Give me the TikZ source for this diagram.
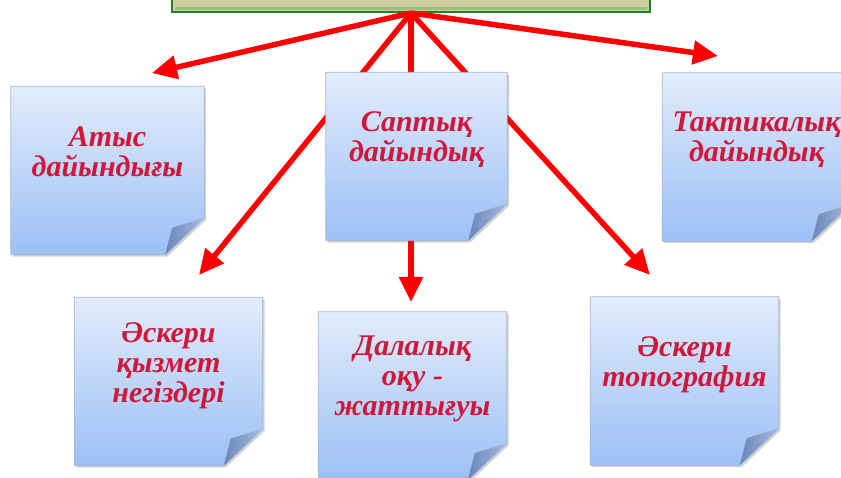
\documentclass[tikz,border=0pt]{standalone}
\usepackage{fontspec}
\setmainfont{Liberation Serif}
\usetikzlibrary{positioning}
\usetikzlibrary{arrows.meta}
\definecolor{noteTop}{RGB}{226,236,252}
\definecolor{noteBot}{RGB}{156,192,245}
\definecolor{noteLine}{RGB}{165,182,210}
\definecolor{flapDark}{RGB}{105,135,185}
\definecolor{flapLight}{RGB}{165,188,226}
\definecolor{topFill}{RGB}{207,206,160}
\definecolor{topLine}{RGB}{40,125,40}
\definecolor{topBevel}{RGB}{150,195,125}
\definecolor{noteText}{RGB}{210,22,58}
\tikzset{
    topbox/.style = {rectangle, line width=2pt, draw=topLine, fill=topFill, minimum width=478pt, minimum height=34pt},
    topbevel/.style = {line width=3pt, topBevel},
    note/.style = {rectangle, inner sep=0pt, minimum width=188pt, minimum height=168pt},
    notefill/.style = {top color=noteTop, bottom color=noteBot, draw=noteLine, line width=0.8pt},
    noteflap/.style = {left color=flapDark, right color=flapLight},
    noteshadow/.style = {fill=black, opacity=0.18},
    notetext/.style = {align=center, text=noteText, font=\fontsize{30}{30}\selectfont\bfseries\itshape},
    edger/.style = {-{Triangle[length=25pt,width=23pt]}, line width=5.5pt, red}
}

\begin{document}
\begin{tikzpicture}[x=1pt, y=-1pt]
  \path[use as bounding box, clip] (0,0) rectangle (841,478);

  % top box, cut by the frame
  \node[topbox] (top) at (411,-5) {};
  \draw[topbevel] ([shift={(4,-4)}]top.south west) -- ([shift={(-4,-4)}]top.south east);

  % notes
  \node[note, minimum width=193pt] (atys) at (107.5,170.5) {};
  \node[note, minimum width=181pt] (sapt) at (416.5,156.5) {};
  \node[note] (takt) at (756.5,157) {};
  \node[note] (qyzm) at (168.5,381.5) {};
  \node[note] (dala) at (412.5,396) {};
  \node[note] (topo) at (684.5,381) {};

  % arrow tips
  \coordinate (tipatys) at (152,73);
  \coordinate (tiptakt) at (718,56);
  \coordinate (tipqyzm) at (199,275);
  \coordinate (tipdala) at (411,302);
  \coordinate (tiptopo) at (650,275);

  \foreach \t in {atys,takt,qyzm,dala,topo}
    \draw[edger] (top.south) -- (tip\t);

  \foreach \n in {atys,sapt,takt,qyzm,dala,topo} {
    \fill[noteshadow] ([shift={(2,2)}]\n.north west) -- ([shift={(2,2)}]\n.north east)
      -- ([shift={(2,-35)}]\n.south east) -- ([shift={(-37,2)}]\n.south east)
      -- ([shift={(2,2)}]\n.south west) -- cycle;
    \path[notefill] (\n.north west) -- (\n.north east) -- ([yshift=37pt]\n.south east)
      -- ([xshift=-39pt]\n.south east) -- (\n.south west) -- cycle;
    \path[noteflap] ([yshift=37pt]\n.south east) -- ([xshift=-32pt,yshift=27pt]\n.south east)
      -- ([xshift=-39pt]\n.south east) -- cycle;
  }

  % labels
  \node[notetext] (atyst) at ([yshift=19pt]atys.center) {Атыс\\дайындығы};
  \node[notetext] (saptt) at ([yshift=17pt]sapt.center) {Саптық\\дайындық};
  \node[notetext] (taktt) at ([yshift=17pt]takt.center) {Тактикалық\\дайындық};
  \node[notetext] (qyzmt) at ([yshift=16pt]qyzm.center) {Әскери\\қызмет\\негіздері};
  \node[notetext] (dalat) at ([yshift=17pt]dala.center) {Далалық\\оқу -\\жаттығуы};
  \node[notetext] (topot) at ([yshift=16pt]topo.center) {Әскери\\топография};

\end{tikzpicture}
\end{document}
